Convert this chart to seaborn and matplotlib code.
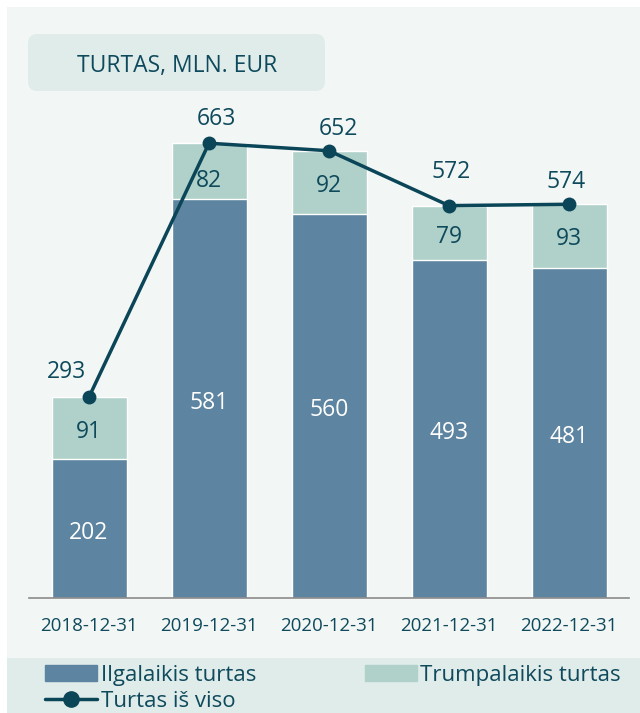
import matplotlib
matplotlib.use("Agg")
import matplotlib.pyplot as plt
from matplotlib.patches import Rectangle, FancyBboxPatch, Patch
from matplotlib.lines import Line2D
import seaborn as sns
import pandas as pd

# data
dates = ['2018-12-31', '2019-12-31', '2020-12-31', '2021-12-31', '2022-12-31']
ilgalaikis = [202, 581, 560, 493, 481]
trumpalaikis = [91, 82, 92, 79, 93]
viso = [293, 663, 652, 572, 574]

# label nudges (pixels) as placed in the original chart
total_nudge = [(-22, 25), (7, 24), (9, 22), (2, 34), (-3, 22)]
short_nudge = [-4, -10, -4, -4, -3]

dark = '#5d84a0'
light = '#afd1c9'
line_c = '#0b4558'
text_c = '#0e4a5c'

sns.set_theme(style='white')
plt.rcParams['font.family'] = ['Open Sans', 'DejaVu Sans']

df = pd.DataFrame({'date': dates, 'ilg': ilgalaikis, 'trump': trumpalaikis, 'viso': viso})
df['stack'] = df['ilg'] + df['trump']

W, H = 640, 713
fig = plt.figure(figsize=(W / 100, H / 100), dpi=100, facecolor='white')

# panel backgrounds
fig.patches.append(Rectangle((7 / W, 0), 1 - 7 / W, 1 - 7 / H, transform=fig.transFigure,
                             facecolor='#f2f6f5', edgecolor='none', zorder=-3))
fig.patches.append(Rectangle((7 / W, 0), 1 - 7 / W, 55 / H, transform=fig.transFigure,
                             facecolor='#e0ecea', edgecolor='none', zorder=-2))
fig.patches.append(FancyBboxPatch((28 / W, 1 - 91 / H), 297 / W, 57 / H,
                                  boxstyle='round,pad=0,rounding_size=0.014',
                                  transform=fig.transFigure, facecolor='#e0ecea',
                                  edgecolor='none', zorder=-2))
fig.text(177 / W, 1 - 66 / H, 'TURTAS, MLN. EUR', ha='center', va='center',
         fontsize=16.5, color=text_c)

ax = fig.add_axes([29 / W, 115 / H, 600 / W, 498 / H])
ax.set_facecolor('none')

sns.barplot(data=df, x='date', y='stack', color=light, width=0.625, saturation=1, ax=ax)
sns.barplot(data=df, x='date', y='ilg', color=dark, width=0.625, saturation=1, ax=ax)
sns.lineplot(data=df, x='date', y='viso', color=line_c, linewidth=2.5, marker='o',
             markersize=10, markeredgewidth=0, ax=ax, zorder=5)

for i, (a, b, t) in enumerate(zip(ilgalaikis, trumpalaikis, viso)):
    ax.annotate(str(a), (i, a / 2), xytext=(0, -4), textcoords='offset pixels',
                ha='center', va='center', color='white', fontsize=16.5)
    ax.annotate(str(b), (i, a + b / 2), xytext=(0, short_nudge[i]), textcoords='offset pixels',
                ha='center', va='center', color=text_c, fontsize=16.5)
    ax.annotate(str(t), (i, t), xytext=total_nudge[i], textcoords='offset pixels',
                ha='center', va='center', color=text_c, fontsize=16.5)

ax.set_xlim(-0.5, 4.5)
ax.set_ylim(0, 726)
ax.set_xlabel('')
ax.set_ylabel('')
ax.set_yticks([])
ax.tick_params(axis='x', length=0, pad=14, labelsize=13.5, labelcolor=text_c)
for s in ['top', 'right', 'left']:
    ax.spines[s].set_visible(False)
ax.spines['bottom'].set_color('#8a8a8a')
ax.spines['bottom'].set_linewidth(1.2)

handles = [Patch(color=dark), Line2D([], [], color=line_c, lw=2.5, marker='o', markersize=11),
           Patch(color=light)]
labels = ['Ilgalaikis turtas', 'Turtas iš viso', 'Trumpalaikis turtas']
fig.legend(handles, labels, ncol=2, loc='upper left', bbox_to_anchor=(45 / W, 1 - 665 / H),
           frameon=False, fontsize=16, labelcolor=text_c, handlelength=2.35,
           handletextpad=0.15, columnspacing=4.9, labelspacing=0.22,
           borderpad=0, borderaxespad=0)

fig.savefig('out.png', dpi=100, facecolor='white')
